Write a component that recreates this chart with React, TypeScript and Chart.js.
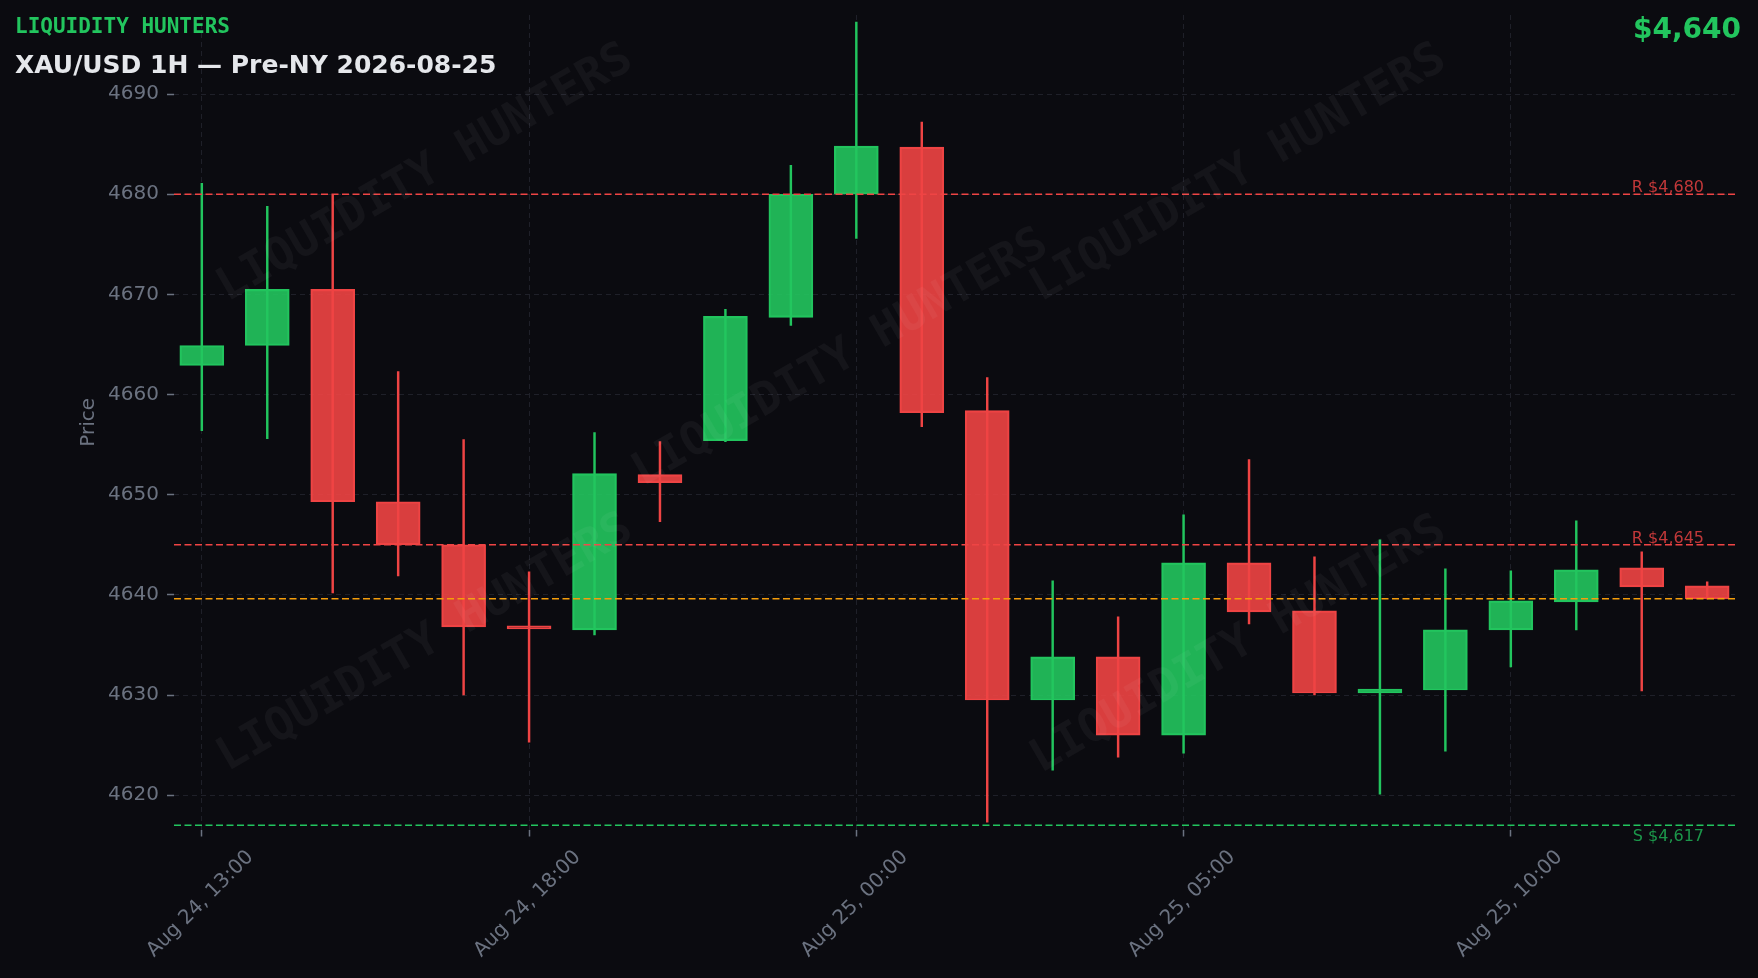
import React, { useEffect, useRef } from "react";
import { Chart, registerables } from "chart.js";

Chart.register(...registerables);

// ---------- data ----------
const timeLabels = [
  "Aug 24, 13:00", "Aug 24, 14:00", "Aug 24, 15:00", "Aug 24, 16:00", "Aug 24, 17:00", "Aug 24, 18:00",
  "Aug 24, 19:00", "Aug 24, 20:00", "Aug 24, 21:00", "Aug 24, 22:00",
  "Aug 25, 00:00", "Aug 25, 01:00", "Aug 25, 02:00", "Aug 25, 03:00", "Aug 25, 04:00", "Aug 25, 05:00",
  "Aug 25, 06:00", "Aug 25, 07:00", "Aug 25, 08:00", "Aug 25, 09:00", "Aug 25, 10:00", "Aug 25, 11:00",
  "Aug 25, 12:00", "Aug 25, 13:00",
];
const opens = [
  4662.9, 4664.9, 4670.5, 4649.3, 4645.0, 4636.9, 4636.5, 4652.0, 4655.4, 4667.7, 4680.0, 4684.7,
  4658.4, 4629.5, 4633.8, 4626.0, 4643.2, 4638.4, 4630.2, 4630.5, 4636.5, 4639.3, 4642.7, 4640.9,
];
const highs = [
  4681.1, 4678.8, 4679.9, 4662.3, 4655.5, 4642.3, 4656.2, 4655.3, 4668.5, 4682.9, 4697.2, 4687.2,
  4661.7, 4641.4, 4637.8, 4648.0, 4653.5, 4643.8, 4645.5, 4642.6, 4642.4, 4647.4, 4644.3, 4641.3,
];
const lows = [
  4656.4, 4655.6, 4640.2, 4641.9, 4630.0, 4625.3, 4636.0, 4647.3, 4655.3, 4666.9, 4675.6, 4656.8,
  4617.3, 4622.5, 4623.8, 4624.2, 4637.1, 4630.0, 4620.1, 4624.4, 4632.8, 4636.5, 4630.4, 4639.6,
];
const closes = [
  4664.9, 4670.5, 4649.3, 4645.0, 4636.8, 4636.6, 4652.1, 4651.2, 4667.8, 4680.0, 4684.8, 4658.2,
  4629.5, 4633.8, 4626.0, 4643.2, 4638.3, 4630.2, 4630.6, 4636.5, 4639.4, 4642.5, 4640.8, 4639.6,
];
const xTickIndices = [0, 5, 10, 15, 20];
const yTickValues = [4620, 4630, 4640, 4650, 4660, 4670, 4680, 4690];
const resistanceLevels = [4680, 4645];
const supportLevels = [4617];
const currentPrice = 4639.6;
const brandText = "LIQUIDITY HUNTERS";
const titleText = "XAU/USD 1H \u2014 Pre-NY 2026-08-25";
const priceText = "$4,640";
const yAxisTitle = "Price";

// ---------- styles ----------
const BG = "#0b0b10";
const GREEN = "#22c55e";
const RED = "#ef4444";
const GREEN_FILL = "rgba(34,197,94,0.9)";
const RED_FILL = "rgba(239,68,68,0.9)";
const ORANGE = "#f59e0b";
const GRID = "#1f2029";
const TICK = "#6b7280";
const FONT = '"DejaVu Sans", sans-serif';
const MONO = '"DejaVu Sans Mono", monospace';

const fmtMoney = (v: number) => "$" + Math.round(v).toLocaleString("en-US");

const overlayPlugin = {
  id: "overlay",
  beforeDraw(chart: any) {
    const { ctx, width, height } = chart;
    ctx.save();
    ctx.fillStyle = BG;
    ctx.fillRect(0, 0, width, height);
    ctx.restore();
  },
  afterDatasetsDraw(chart: any) {
    const { ctx, chartArea: a, scales } = chart;
    const y = scales.y;
    ctx.save();
    const hline = (v: number, color: string) => {
      const py = y.getPixelForValue(v);
      ctx.beginPath();
      ctx.setLineDash([7, 3.5]);
      ctx.lineWidth = 1.5;
      ctx.strokeStyle = color;
      ctx.moveTo(a.left, py);
      ctx.lineTo(a.right, py);
      ctx.stroke();
      return py;
    };
    ctx.font = `16px ${FONT}`;
    ctx.textAlign = "right";
    ctx.textBaseline = "alphabetic";
    resistanceLevels.forEach((lv) => {
      const py = hline(lv, RED);
      ctx.fillStyle = "rgba(239,68,68,0.8)";
      ctx.fillText("R " + fmtMoney(lv), a.right - 31, py - 2);
    });
    supportLevels.forEach((lv) => {
      const py = hline(lv, GREEN);
      ctx.fillStyle = "rgba(34,197,94,0.75)";
      ctx.fillText("S " + fmtMoney(lv), a.right - 31, py + 15.5);
    });
    hline(currentPrice, ORANGE);
    ctx.setLineDash([]);

    // watermarks
    const marks = [
      [0.161, 0.195],
      [0.427, 0.422],
      [0.682, 0.195],
      [0.161, 0.772],
      [0.682, 0.774],
    ];
    ctx.font = `bold 46px ${MONO}`;
    ctx.fillStyle = "rgba(255,255,255,0.045)";
    ctx.textAlign = "center";
    ctx.textBaseline = "middle";
    marks.forEach(([fx, fy]) => {
      ctx.save();
      ctx.translate(a.left + fx * (a.right - a.left), a.top + fy * (a.bottom - a.top));
      ctx.rotate(-Math.PI / 6);
      ctx.fillText(brandText, 0, 0);
      ctx.restore();
    });
    ctx.restore();
  },
  afterDraw(chart: any) {
    const { ctx, chartArea: a, scales, width } = chart;
    const x = scales.x;
    ctx.save();
    // x tick labels
    ctx.font = `20px ${FONT}`;
    ctx.fillStyle = TICK;
    ctx.textAlign = "center";
    ctx.textBaseline = "middle";
    xTickIndices.forEach((i) => {
      const px = x.getPixelForValue(i);
      ctx.save();
      ctx.translate(px - 1.5, a.bottom + 74.5);
      ctx.rotate(-Math.PI / 4);
      ctx.fillText(timeLabels[i], 0, 0);
      ctx.restore();
    });
    // y axis title
    ctx.save();
    ctx.translate(94, (a.top + a.bottom) / 2);
    ctx.rotate(-Math.PI / 2);
    ctx.textBaseline = "alphabetic";
    ctx.fillText(yAxisTitle, 0, 0);
    ctx.restore();
    // header
    ctx.textAlign = "left";
    ctx.textBaseline = "alphabetic";
    ctx.font = `bold 21px ${MONO}`;
    ctx.fillStyle = GREEN;
    ctx.fillText(brandText, 15, 33.3);
    ctx.font = `bold 25px ${FONT}`;
    ctx.fillStyle = "#e5e7eb";
    ctx.fillText(titleText, 15, 73.3);
    ctx.font = `bold 28px ${FONT}`;
    ctx.fillStyle = GREEN;
    ctx.textAlign = "right";
    ctx.fillText(priceText, width - 17, 37.7);
    ctx.restore();
  },
};

export default function App() {
  const ref = useRef<HTMLCanvasElement | null>(null);
  useEffect(() => {
    document.body.style.margin = "0";
    document.body.style.background = BG;
    const canvas = ref.current;
    if (!canvas) return;
    const up = opens.map((o, i) => closes[i] >= o);
    const chart = new Chart(canvas, {
      type: "bar",
      data: {
        datasets: [
          {
            label: "wick",
            data: lows.map((l, i) => ({ x: i, y: [l, highs[i]] })) as any,
            backgroundColor: up.map((u) => (u ? GREEN : RED)),
            borderWidth: 0,
            barThickness: 1.8,
            grouped: false,
            order: 2,
          } as any,
          {
            label: "body",
            data: opens.map((o, i) => ({ x: i, y: [o, closes[i]] })) as any,
            backgroundColor: up.map((u) => (u ? GREEN_FILL : RED_FILL)),
            borderColor: up.map((u) => (u ? GREEN : RED)),
            borderWidth: 1.5,
            borderSkipped: false,
            barThickness: 44,
            minBarLength: 2,
            grouped: false,
            order: 1,
          } as any,
        ],
      },
      options: {
        animation: false,
        responsive: false,
        devicePixelRatio: 1,
        events: [],
        layout: { padding: { left: 0, top: 15, right: 23, bottom: 0 } },
        plugins: { legend: { display: false }, tooltip: { enabled: false }, title: { display: false } },
        scales: {
          x: {
            type: "linear",
            min: -0.425,
            max: 23.425,
            offset: false,
            afterBuildTicks: (s: any) => {
              s.ticks = xTickIndices.map((v) => ({ value: v }));
            },
            afterFit: (s: any) => {
              s.height = 148.5;
              s.paddingLeft = 0;
              s.paddingRight = 0;
            },
            ticks: { display: false, autoSkip: false },
            grid: { offset: false, color: GRID, lineWidth: 1, tickLength: 7, tickColor: TICK, tickWidth: 1.5, drawTicks: true },
            border: { display: false, dash: [5, 4] },
          },
          y: {
            type: "linear",
            min: 4616.57,
            max: 4697.9,
            afterBuildTicks: (s: any) => {
              s.ticks = yTickValues.map((v) => ({ value: v }));
            },
            afterFit: (s: any) => {
              s.width = 174;
              s.paddingTop = 0;
              s.paddingBottom = 0;
            },
            ticks: {
              color: TICK,
              font: { size: 20, family: FONT },
              padding: 8,
              autoSkip: false,
              callback: (v: any) => String(v),
            },
            grid: { color: GRID, lineWidth: 1, tickLength: 7, tickColor: TICK, tickWidth: 1.5, drawTicks: true },
            border: { display: false, dash: [5, 4] },
          },
        },
      } as any,
      plugins: [overlayPlugin],
    });
    return () => chart.destroy();
  }, []);
  return (
    <canvas
      ref={ref}
      width={1758}
      height={978}
      style={{ display: "block", width: 1758, height: 978 }}
    />
  );
}
